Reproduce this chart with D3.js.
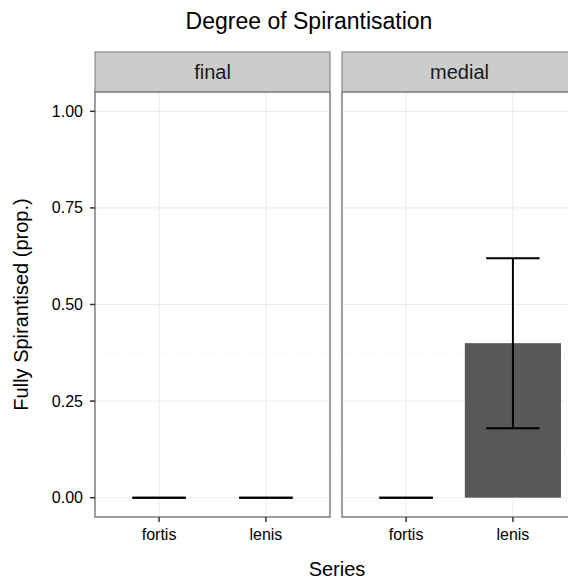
<!DOCTYPE html>
<html>
<head>
<meta charset="utf-8">
<script src="https://cdn.jsdelivr.net/npm/d3@7"></script>
<style>
  body { margin: 0; background: #fff; }
  svg { font-family: "Liberation Sans", Arial, sans-serif; }
</style>
</head>
<body>
<svg id="chart" width="568" height="584"></svg>
<script>
// data
const facets = ["final", "medial"];
const series = ["fortis", "lenis"];
const finalValues = [0, 0];
const finalLow = [0, 0];
const finalHigh = [0, 0];
const medialValues = [0, 0.40];
const medialLow = [0, 0.18];
const medialHigh = [0, 0.62];
const yTicks = [0, 0.25, 0.5, 0.75, 1.0];
const yMinor = [0.125, 0.375, 0.625, 0.875];

const rows = {
    final: series.map((s, i) => ({series: s, value: finalValues[i], lo: finalLow[i], hi: finalHigh[i]})),
    medial: series.map((s, i) => ({series: s, value: medialValues[i], lo: medialLow[i], hi: medialHigh[i]}))
};

const svg = d3.select("#chart");

const panelW = 235, gap = 12;
const panelLeft = 95, stripTop = 52, stripH = 40, panelTop = 92, panelBottom = 517;

const y = d3.scaleLinear().domain([-0.05, 1.05]).range([panelBottom, panelTop]);

// x: discrete positions 1..2 expanded by 0.6 each side
const xUnit = d3.scaleLinear().domain([0.4, 2.6]).range([0, panelW]);

// title
svg.append("text")
    .attr("x", 309).attr("y", 29)
    .attr("text-anchor", "middle")
    .attr("font-size", "23px")
    .attr("fill", "#000")
    .text("Degree of Spirantisation");

facets.forEach((f, fi) => {
    const x0 = panelLeft + fi * (panelW + gap);
    const g = svg.append("g").attr("transform", `translate(${x0},0)`);

    // strip
    g.append("rect")
        .attr("x", 0).attr("y", stripTop)
        .attr("width", panelW).attr("height", stripH)
        .attr("fill", "#cccccc").attr("stroke", "#7f7f7f").attr("stroke-width", 1.1);
    g.append("text")
        .attr("x", panelW / 2).attr("y", 79)
        .attr("text-anchor", "middle")
        .attr("font-size", "20px")
        .attr("fill", "#1a1a1a")
        .text(f);

    // panel background
    g.append("rect")
        .attr("x", 0).attr("y", panelTop)
        .attr("width", panelW).attr("height", panelBottom - panelTop)
        .attr("fill", "#fff");

    // minor grid (dotted)
    g.selectAll(".minor").data(yMinor).enter().append("line")
        .attr("x1", 0).attr("x2", panelW)
        .attr("y1", d => y(d)).attr("y2", d => y(d))
        .attr("stroke", "#e6e6e6").attr("stroke-width", 0.6)
        .attr("stroke-dasharray", "1,2");

    // major grid
    g.selectAll(".major").data(yTicks).enter().append("line")
        .attr("x1", 0).attr("x2", panelW)
        .attr("y1", d => y(d)).attr("y2", d => y(d))
        .attr("stroke", "#ebebeb").attr("stroke-width", 1);
    g.selectAll(".vgrid").data(series).enter().append("line")
        .attr("x1", (d, i) => xUnit(i + 1)).attr("x2", (d, i) => xUnit(i + 1))
        .attr("y1", panelTop).attr("y2", panelBottom)
        .attr("stroke", "#ebebeb").attr("stroke-width", 1);

    const data = rows[f];

    // bars
    g.selectAll(".bar").data(data).enter().append("rect")
        .attr("x", (d, i) => xUnit(i + 1 - 0.45))
        .attr("width", xUnit(0.4 + 0.9))
        .attr("y", d => y(d.value))
        .attr("height", d => y(0) - y(d.value))
        .attr("fill", "#595959");

    // error bars
    const eb = g.selectAll(".eb").data(data).enter().append("g");
    eb.append("line")
        .attr("x1", (d, i) => xUnit(i + 1)).attr("x2", (d, i) => xUnit(i + 1))
        .attr("y1", d => y(d.lo)).attr("y2", d => y(d.hi))
        .attr("stroke", "#000").attr("stroke-width", 2);
    eb.append("line")
        .attr("x1", (d, i) => xUnit(i + 1 - 0.25)).attr("x2", (d, i) => xUnit(i + 1 + 0.25))
        .attr("y1", d => y(d.lo)).attr("y2", d => y(d.lo))
        .attr("stroke", "#000").attr("stroke-width", 2);
    eb.append("line")
        .attr("x1", (d, i) => xUnit(i + 1 - 0.25)).attr("x2", (d, i) => xUnit(i + 1 + 0.25))
        .attr("y1", d => y(d.hi)).attr("y2", d => y(d.hi))
        .attr("stroke", "#000").attr("stroke-width", 2);

    // panel border
    g.append("rect")
        .attr("x", 0).attr("y", panelTop)
        .attr("width", panelW).attr("height", panelBottom - panelTop)
        .attr("fill", "none").attr("stroke", "#7f7f7f").attr("stroke-width", 1.5);

    // x ticks and labels
    series.forEach((s, i) => {
        g.append("line")
            .attr("x1", xUnit(i + 1)).attr("x2", xUnit(i + 1))
            .attr("y1", panelBottom).attr("y2", panelBottom + 5)
            .attr("stroke", "#333").attr("stroke-width", 1.5);
        g.append("text")
            .attr("x", xUnit(i + 1)).attr("y", 540)
            .attr("text-anchor", "middle")
            .attr("font-size", "16px")
            .attr("fill", "#000")
            .text(s);
    });
});

// y axis
yTicks.forEach(t => {
    svg.append("line")
        .attr("x1", panelLeft - 5).attr("x2", panelLeft)
        .attr("y1", y(t)).attr("y2", y(t))
        .attr("stroke", "#333").attr("stroke-width", 1.5);
    svg.append("text")
        .attr("x", panelLeft - 12).attr("y", y(t) + 5.5)
        .attr("text-anchor", "end")
        .attr("font-size", "16px")
        .attr("fill", "#000")
        .text(d3.format(".2f")(t));
});

// axis titles
svg.append("text")
    .attr("transform", `translate(28,${(panelTop + panelBottom) / 2}) rotate(-90)`)
    .attr("text-anchor", "middle")
    .attr("font-size", "20px")
    .text("Fully Spirantised (prop.)");

svg.append("text")
    .attr("x", 337).attr("y", 576)
    .attr("text-anchor", "middle")
    .attr("font-size", "20px")
    .text("Series");
</script>
</body>
</html>
